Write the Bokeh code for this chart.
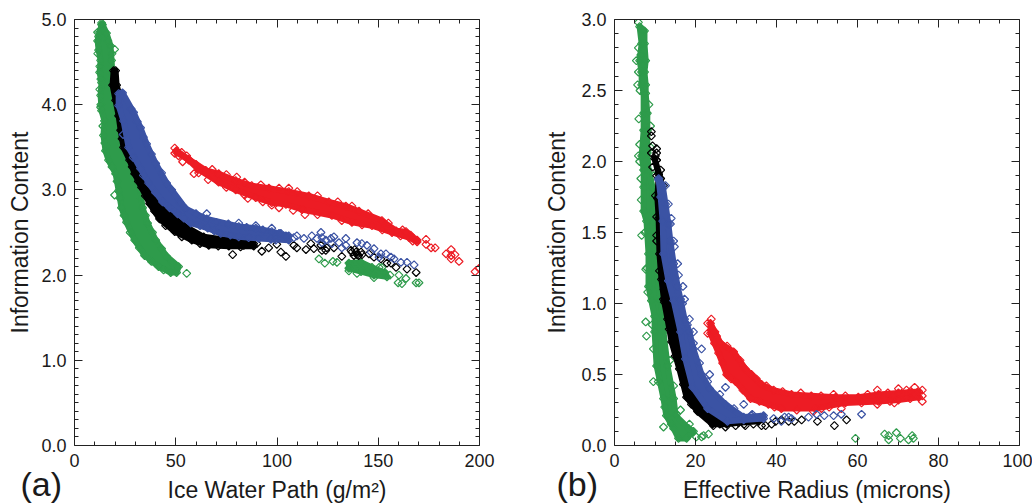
from bokeh.embed import file_html
from bokeh.resources import INLINE
from bokeh.layouts import row
from bokeh.models import FixedTicker, Label, LinearAxis, PrintfTickFormatter, Range1d
from bokeh.plotting import figure
import math

GREEN = "#2E9B4B"
BLACK = "#000000"
BLUE = "#3B53A4"
RED = "#ED1C24"

# ---- Panel (a): Ice Water Path vs Information Content ----
a_green_band_x = [13.35, 12.4, 11.4, 11.9, 12.9, 12.4, 13.35, 12.9, 13.35, 14.8, 14.3, 15.3, 16.8, 20.3, 21.8, 23.2, 25.7, 29.7, 34.6, 41.5, 47.5,
                  50.4, 51.4, 45.5, 40.1, 36.1, 33.6, 32.6, 29.7, 27.2, 24.2, 22.8, 20.8, 19.8, 18.8, 18.3, 17.8, 15.8, 13.8]
a_green_band_y = [4.94, 4.85, 4.75, 4.64, 4.52, 4.38, 4.26, 4.11, 3.93, 3.81, 3.64, 3.46, 3.35, 3.19, 2.99, 2.79, 2.62, 2.41, 2.23, 2.10, 2.03,
                  2.03, 2.10, 2.22, 2.41, 2.61, 2.79, 2.99, 3.19, 3.35, 3.50, 3.70, 3.93, 4.17, 4.34, 4.52, 4.69, 4.84, 4.94]
a_green_tail_x = [135.5, 141.5, 146.9, 153.3, 154.3, 147.9, 141.5, 135.5]
a_green_tail_y = [2.14, 2.15, 2.09, 2.03, 1.98, 2.00, 2.04, 2.08]
a_green_stray_x = [13.4, 11.4, 19.8, 12.9, 15.8, 19.8, 55.4, 123.6, 127.6, 129.6, 160.2, 163.7, 159.8, 161.7, 168.7, 170.1, 155.8, 150.4, 151.8, 147.9, 139.5, 135.5, 120.7,
                   11.9, 11.5, 12.5, 13.0, 12.5, 13.0, 14.0, 15.0, 18.5, 21.0, 22.5, 24.5, 27.5, 32.0, 38.0, 44.0,
                   16.5, 18.5, 19.0, 20.0, 22.0, 25.0, 28.5, 31.0, 33.0, 35.0, 38.5, 43.0, 48.0]
a_green_stray_y = [4.96, 4.85, 4.65, 3.97, 3.51, 2.94, 2.02, 2.14, 2.16, 2.15, 2.00, 1.96, 1.91, 1.90, 1.91, 1.91, 2.00, 2.09, 2.09, 1.97, 2.02, 2.05, 2.19,
                   4.80, 4.60, 4.45, 4.30, 4.18, 4.00, 3.75, 3.55, 3.27, 3.10, 2.90, 2.70, 2.50, 2.32, 2.16, 2.06,
                   4.75, 4.60, 4.40, 4.10, 3.80, 3.45, 3.27, 3.10, 2.90, 2.70, 2.50, 2.31, 2.15]

a_black_band_x = [19.3, 18.8, 20.3, 21.8, 22.8, 24.2, 27.2, 29.7, 33.1, 37.1, 42.0, 49.5, 57.9, 66.3, 76.2, 88.5,
                  88.5, 76.2, 63.8, 53.9, 46.5, 36.6, 29.2, 24.2, 20.8, 20.3]
a_black_band_y = [4.40, 4.23, 4.05, 3.87, 3.70, 3.50, 3.35, 3.19, 3.03, 2.84, 2.66, 2.51, 2.41, 2.35, 2.34, 2.34,
                  2.37, 2.41, 2.45, 2.58, 2.73, 2.99, 3.46, 3.93, 4.23, 4.40]
a_black_stray_x = [25.7, 78.1, 92.5, 95.9, 99.9, 101.9, 104.4, 108.3, 109.8, 114.3, 116.7, 118.2, 122.2, 124.6, 90.0, 86.1, 83.6, 82.1, 121.7, 124.1, 128.1, 132.0,
                   137.0, 139.0, 141.5, 145.4, 147.9, 154.3, 156.3, 158.8, 164.2, 168.7, 151.3, 138.0, 139.5, 136.5, 140.3, 138.4, 142.0,
                   23.5, 28.5, 31.5, 35.0, 39.5, 45.0, 53.0, 62.0, 71.0, 82.0]
a_black_stray_y = [4.01, 2.24, 2.28, 2.32, 2.36, 2.27, 2.22, 2.35, 2.32, 2.30, 2.37, 2.31, 2.29, 2.32, 2.37, 2.37, 2.35, 2.38, 2.35, 2.29, 2.32, 2.22,
                   2.27, 2.27, 2.27, 2.25, 2.21, 2.14, 2.14, 2.09, 2.07, 2.03, 2.19, 2.23, 2.24, 2.29, 2.23, 2.30, 2.24,
                   3.60, 3.27, 3.10, 2.93, 2.75, 2.58, 2.45, 2.37, 2.34, 2.33]

a_blue_band_x = [21.8, 21.8, 24.2, 26.7, 32.6, 36.6, 43.5, 50.9, 57.4, 65.8, 72.2, 81.1, 91.0, 105.8,
                 105.8, 97.4, 89.5, 81.1, 65.3, 54.9, 45.5, 40.1, 35.6, 32.6, 29.2, 23.7]
a_blue_band_y = [4.13, 3.99, 3.81, 3.50, 3.25, 3.08, 2.86, 2.72, 2.61, 2.55, 2.49, 2.45, 2.43, 2.41,
                 2.46, 2.51, 2.55, 2.57, 2.66, 2.78, 3.08, 3.31, 3.54, 3.73, 3.91, 4.14]
a_blue_stray_x = [99.4, 101.9, 104.4, 109.8, 113.3, 117.2, 121.7, 124.1, 119.7, 108.3, 122.2, 122.2, 126.6, 128.1, 127.1, 130.6, 134.0, 134.0, 139.5, 141.9,
                  144.4, 147.9, 146.4, 151.3, 153.8, 156.3, 157.8, 161.2, 164.2, 167.7, 132.0, 150.4, 65.3, 81.1, 89.5, 97.4,
                  28.0, 31.0, 34.0, 38.0, 43.0, 48.0, 52.0, 60.0, 70.0, 76.0, 85.0, 93.0, 101.0,
                  24.0, 29.0, 34.0, 40.0, 47.0, 54.0, 62.0, 69.0, 77.0, 86.0, 97.0]
a_blue_stray_y = [2.41, 2.49, 2.46, 2.46, 2.43, 2.46, 2.50, 2.41, 2.43, 2.44, 2.44, 2.38, 2.43, 2.45, 2.37, 2.38, 2.43, 2.35, 2.38, 2.37,
                  2.35, 2.31, 2.27, 2.25, 2.25, 2.21, 2.19, 2.15, 2.15, 2.12, 2.32, 2.21, 2.72, 2.61, 2.58, 2.55,
                  3.95, 3.80, 3.62, 3.42, 3.20, 3.00, 2.85, 2.72, 2.62, 2.60, 2.56, 2.53, 2.49,
                  3.65, 3.38, 3.17, 2.97, 2.79, 2.67, 2.58, 2.52, 2.47, 2.44, 2.42]

a_red_band_x = [50.4, 56.4, 64.8, 71.2, 79.6, 87.5, 96.0, 105.8, 115.7, 125.6, 134.0, 140.5, 151.8, 158.8, 163.7, 169.2,
                169.2, 165.2, 156.8, 146.9, 137.0, 127.1, 112.3, 104.4, 97.4, 89.5, 79.6, 71.2, 61.3, 56.4, 50.4]
a_red_band_y = [3.46, 3.36, 3.23, 3.19, 3.11, 3.05, 3.02, 2.98, 2.93, 2.86, 2.81, 2.75, 2.64, 2.52, 2.51, 2.41,
                2.39, 2.44, 2.50, 2.58, 2.62, 2.70, 2.77, 2.83, 2.85, 2.91, 3.00, 3.09, 3.24, 3.35, 3.44]
a_red_stray_x = [49.5, 49.5, 52.9, 51.4, 53.4, 55.4, 173.6, 173.6, 176.1, 178.1, 183.5, 186.0, 186.0, 187.9, 189.9, 186.0, 197.8, 199.8, 85.6, 97.4, 113.8, 105.8, 80.1, 61.3,
                 60.0, 68.0, 75.0, 84.0, 92.0, 101.0, 110.0, 120.0, 130.0, 137.0, 145.0, 155.0, 162.0, 166.0,
                 59.0, 66.0, 75.0, 84.0, 93.0, 101.0, 108.0, 120.0, 132.0, 142.0, 152.0, 161.0, 167.0]
a_red_stray_y = [3.49, 3.43, 3.44, 3.40, 3.33, 3.40, 2.42, 2.36, 2.32, 2.32, 2.25, 2.30, 2.23, 2.24, 2.16, 2.19, 2.04, 2.08, 2.90, 2.82, 2.71, 3.02, 3.15, 3.20,
                 3.30, 3.24, 3.18, 3.09, 3.06, 3.02, 2.98, 2.93, 2.86, 2.81, 2.72, 2.61, 2.53, 2.47,
                 3.19, 3.12, 3.03, 2.94, 2.86, 2.79, 2.76, 2.71, 2.64, 2.59, 2.53, 2.46, 2.40]

# ---- Panel (b): Effective Radius vs Information Content ----
b_green_band_x = [6.2, 6.7, 6.2, 6.7, 6.7, 7.2, 7.2, 7.2, 6.7, 7.2, 7.2, 7.2, 7.9, 8.4, 8.4, 9.1, 9.9, 9.9, 10.4, 12.1, 12.8, 14.6, 15.8, 17.8, 19.5,
                  18.3, 15.1, 14.6, 13.1, 12.1, 11.9, 11.4, 10.9, 10.1, 9.6, 9.6, 9.4, 8.4, 8.1, 8.1, 8.1, 7.7, 7.7, 7.4, 7.7, 7.4, 7.4]
b_green_band_y = [2.95, 2.83, 2.71, 2.63, 2.54, 2.48, 2.34, 2.22, 2.04, 1.94, 1.82, 1.65, 1.58, 1.35, 1.12, 1.02, 0.91, 0.80, 0.56, 0.33, 0.21, 0.12, 0.05, 0.05, 0.10,
                  0.12, 0.21, 0.33, 0.56, 0.80, 0.91, 1.02, 1.12, 1.35, 1.58, 1.65, 1.82, 1.94, 2.06, 2.22, 2.34, 2.48, 2.54, 2.63, 2.71, 2.83, 2.92]
b_green_stray_x = [5.9, 6.9, 5.9, 5.4, 5.9, 5.7, 5.9, 6.2, 6.7, 7.7, 7.7, 7.9, 12.1, 14.1, 15.3, 9.6, 20.2, 22.0, 23.2, 21.5,
                   59.5, 66.7, 67.7, 67.7, 69.6, 70.6, 72.6, 73.5, 73.8,
                   6.5, 6.3, 6.0, 6.2, 6.5, 6.6, 7.5, 8.0, 8.2, 9.3, 9.6, 10.8, 12.4, 14.0,
                   8.5, 8.9, 8.9, 9.7, 10.7, 10.8, 11.3, 12.1, 12.9, 13.7, 14.6, 16.3, 18.5]
b_green_stray_y = [2.98, 2.92, 2.80, 2.71, 2.63, 2.54, 2.04, 2.00, 1.48, 1.24, 0.87, 0.77, 0.13, 0.34, 0.22, 0.45, 0.06, 0.07, 0.08, 0.06,
                   0.05, 0.08, 0.07, 0.04, 0.09, 0.05, 0.04, 0.07, 0.05,
                   2.75, 2.50, 2.30, 2.12, 1.88, 1.73, 1.50, 1.25, 1.08, 0.85, 0.68, 0.45, 0.27, 0.15,
                   2.40, 2.25, 2.10, 1.90, 1.70, 1.45, 1.20, 1.00, 0.85, 0.60, 0.42, 0.25, 0.15]

b_black_band_x = [9.9, 10.9, 10.6, 10.9, 11.1, 11.6, 12.3, 13.1, 14.1, 16.0, 17.8, 20.5, 24.2, 27.7, 30.6, 35.6,
                  35.6, 30.6, 25.7, 20.7, 18.3, 16.3, 14.6, 12.8, 11.4]
b_black_band_y = [2.02, 1.91, 1.74, 1.60, 1.35, 1.17, 1.01, 0.89, 0.73, 0.54, 0.34, 0.24, 0.15, 0.15, 0.16, 0.17,
                  0.19, 0.20, 0.22, 0.33, 0.54, 0.82, 1.03, 1.46, 1.88]
b_black_stray_x = [9.1, 9.1, 9.4, 10.4, 9.1, 10.4, 10.4, 10.1, 10.4, 9.4, 11.4, 10.4, 12.1, 10.1, 10.4, 10.4, 10.4, 11.1, 12.1,
                   32.3, 34.3, 36.3, 37.3, 38.8, 39.8, 41.2, 43.0, 44.4, 46.2, 50.1, 54.3, 57.3, 24.4, 29.9, 27.4,
                   12.2, 13.5, 15.0, 17.0, 19.0, 22.5, 26.0, 32.0]
b_black_stray_y = [2.21, 2.18, 2.11, 2.09, 2.06, 2.06, 2.01, 2.04, 2.01, 1.96, 1.94, 1.90, 1.83, 1.76, 1.61, 1.48, 1.44, 1.23, 1.03,
                   0.14, 0.15, 0.14, 0.14, 0.15, 0.17, 0.18, 0.17, 0.17, 0.18, 0.17, 0.14, 0.18, 0.14, 0.14, 0.13,
                   1.10, 0.82, 0.63, 0.43, 0.29, 0.20, 0.15, 0.15]

b_blue_band_x = [10.9, 11.4, 11.9, 12.1, 13.3, 14.6, 16.3, 17.5, 19.3, 23.0, 27.9, 31.9, 36.8,
                 36.8, 31.9, 27.4, 23.5, 21.5, 19.5, 18.5, 17.3, 16.3, 15.6, 14.6, 13.8, 13.3, 12.6, 11.9, 10.9]
b_blue_band_y = [1.87, 1.75, 1.58, 1.35, 1.16, 1.02, 0.80, 0.61, 0.41, 0.26, 0.17, 0.18, 0.19,
                 0.21, 0.20, 0.29, 0.40, 0.50, 0.68, 0.80, 0.89, 1.03, 1.12, 1.28, 1.44, 1.56, 1.70, 1.83, 1.88]
b_blue_stray_x = [12.6, 13.3, 13.8, 14.6, 15.6, 16.9, 17.3, 18.5, 19.5, 21.5, 23.5, 27.4, 31.9, 33.8, 36.0, 39.3, 42.0, 43.0, 43.7, 47.9, 49.9, 51.8, 54.1, 56.0, 61.0, 41.2,
                  14.0, 14.8, 15.8, 16.8, 18.0, 19.5, 21.0, 23.0, 26.0, 29.5, 34.0]
b_blue_stray_y = [1.83, 1.70, 1.56, 1.44, 1.28, 1.12, 1.03, 0.89, 0.80, 0.68, 0.50, 0.41, 0.29, 0.21, 0.20, 0.19, 0.20, 0.20, 0.19, 0.20, 0.22, 0.21, 0.21, 0.22, 0.22, 0.17,
                  1.60, 1.40, 1.20, 1.00, 0.85, 0.72, 0.58, 0.45, 0.36, 0.26, 0.22]

b_red_band_x = [23.7, 26.2, 29.4, 32.3, 33.8, 36.3, 39.3, 43.7, 48.6, 54.6, 60.2, 65.2, 70.1, 75.1,
                75.1, 70.1, 65.2, 57.0, 49.6, 41.2, 38.0, 33.6, 29.9, 27.7, 25.7, 23.7]
b_red_band_y = [0.86, 0.72, 0.66, 0.54, 0.50, 0.43, 0.39, 0.36, 0.35, 0.34, 0.34, 0.36, 0.37, 0.38,
                0.34, 0.32, 0.31, 0.30, 0.26, 0.26, 0.29, 0.33, 0.45, 0.50, 0.65, 0.79]
b_red_stray_x = [23.9, 23.0, 23.0, 24.4, 25.2, 74.1, 76.0, 76.0, 76.0, 72.1, 70.1, 64.9, 64.9, 69.1, 49.1, 51.1, 56.0, 54.1, 72.1,
                 24.8, 27.8, 31.0, 35.0, 37.5, 41.5, 46.0, 51.0, 57.0, 62.5, 67.5, 73.0,
                 24.7, 26.7, 28.8, 31.7, 35.8, 39.5, 45.0, 53.0, 61.0, 68.0, 73.0]
b_red_stray_y = [0.89, 0.86, 0.79, 0.80, 0.77, 0.41, 0.39, 0.35, 0.31, 0.39, 0.40, 0.39, 0.29, 0.30, 0.24, 0.26, 0.26, 0.36, 0.34,
                 0.80, 0.70, 0.60, 0.47, 0.42, 0.38, 0.37, 0.35, 0.35, 0.36, 0.37, 0.38,
                 0.72, 0.58, 0.47, 0.39, 0.31, 0.27, 0.25, 0.27, 0.30, 0.31, 0.33]

# ---- Axis tick marks and labels ----
a_x_ticks = [0, 50, 100, 150, 200]
a_x_minor = [10, 20, 30, 40, 60, 70, 80, 90, 110, 120, 130, 140, 160, 170, 180, 190]
a_y_ticks = [0, 1, 2, 3, 4, 5]
a_y_minor = [i / 10 for i in range(0, 51) if i % 10]
b_x_ticks = [0, 20, 40, 60, 80, 100]
b_x_minor = [i for i in range(0, 101, 5) if i % 20]
b_y_ticks = [0, 0.5, 1, 1.5, 2, 2.5, 3]
b_y_minor = [i / 10 for i in range(0, 31) if i % 5]
FONT = "Liberation Sans"


def make_axis(ticks, minor, labelled, fmt):
    ax = LinearAxis(ticker=FixedTicker(ticks=ticks, minor_ticks=minor))
    ax.major_tick_in = 8
    ax.major_tick_out = 0
    ax.minor_tick_in = 4
    ax.minor_tick_out = 0
    ax.axis_line_color = "#222222"
    ax.major_tick_line_color = "#222222"
    ax.minor_tick_line_color = "#222222"
    if labelled:
        ax.formatter = PrintfTickFormatter(format=fmt)
        ax.major_label_text_font = FONT
        ax.major_label_text_font_size = "18px"
        ax.major_label_text_color = "#1a1a1a"
        ax.major_label_standoff = 8
    else:
        ax.major_label_overrides = {t: "" for t in ticks}
        ax.major_label_text_font_size = "1px"
        ax.major_label_standoff = 0
    return ax


def panel(width, xmax, ymax, xt, xm, yt, ym, xlab, tag, tag_x, ylab_off, left, right, top, bottom, series):
    p = figure(width=width, height=502, frame_width=405, frame_height=426,
               x_range=Range1d(0, xmax), y_range=Range1d(0, ymax),
               x_axis_type=None, y_axis_type=None, toolbar_location=None,
               output_backend="svg", min_border_left=left, min_border_right=right,
               min_border_top=top, min_border_bottom=bottom, outline_line_color=None)
    p.grid.visible = False
    bx = make_axis(xt, xm, True, "%d")
    bx.axis_label = xlab
    bx.axis_label_text_font_size = "23px"
    by = make_axis(yt, ym, True, "%.1f")
    by.axis_label = "Information Content"
    by.axis_label_text_font_size = "23px"
    for ax in (bx, by):
        ax.axis_label_text_font = FONT
        ax.axis_label_text_font_style = "normal"
        ax.axis_label_text_color = "#1a1a1a"
    bx.axis_label_standoff = 7
    by.axis_label_standoff = ylab_off
    p.add_layout(bx, "below")
    p.add_layout(by, "left")
    p.add_layout(make_axis(xt, xm, False, ""), "above")
    p.add_layout(make_axis(yt, ym, False, ""), "right")
    for colour, bands, sx, sy in series:
        for px_, py_ in bands:
            p.patch(px_, py_, fill_color=colour, line_color=colour, line_width=6, line_join="round")
            p.scatter(px_, py_, marker="square", angle=math.pi / 4, size=5.6,
                      fill_alpha=0, line_color=colour, line_width=1.2)
        p.scatter(sx, sy, marker="square", angle=math.pi / 4, size=5.6,
                  fill_alpha=0, line_color=colour, line_width=1.2)
    p.add_layout(Label(x=tag_x, y=483, x_units="canvas", y_units="canvas", text=tag,
                       text_baseline="alphabetic", text_font=FONT, text_font_size="34px",
                       text_color="#1a1a1a"), "below")
    return p


pa = panel(500, 200, 5, a_x_ticks, a_x_minor, a_y_ticks, a_y_minor, "Ice Water Path (g/m²)", "(a)", 20, 5, 74, 21, 17, 59, [
    (RED, [(a_red_band_x, a_red_band_y)], a_red_stray_x, a_red_stray_y),
    (GREEN, [(a_green_band_x, a_green_band_y), (a_green_tail_x, a_green_tail_y)], a_green_stray_x, a_green_stray_y),
    (BLACK, [(a_black_band_x, a_black_band_y)], a_black_stray_x, a_black_stray_y),
    (BLUE, [(a_blue_band_x, a_blue_band_y)], a_blue_stray_x, a_blue_stray_y),
])
pb = panel(532, 100, 3, b_x_ticks, b_x_minor, b_y_ticks, b_y_minor, "Effective Radius (microns)", "(b)", 56, 8, 114, 13, 19, 57, [
    (RED, [(b_red_band_x, b_red_band_y)], b_red_stray_x, b_red_stray_y),
    (GREEN, [(b_green_band_x, b_green_band_y)], b_green_stray_x, b_green_stray_y),
    (BLACK, [(b_black_band_x, b_black_band_y)], b_black_stray_x, b_black_stray_y),
    (BLUE, [(b_blue_band_x, b_blue_band_y)], b_blue_stray_x, b_blue_stray_y),
])
layout = row(pa, pb)
open("out.html", "w").write(file_html(layout, INLINE))
